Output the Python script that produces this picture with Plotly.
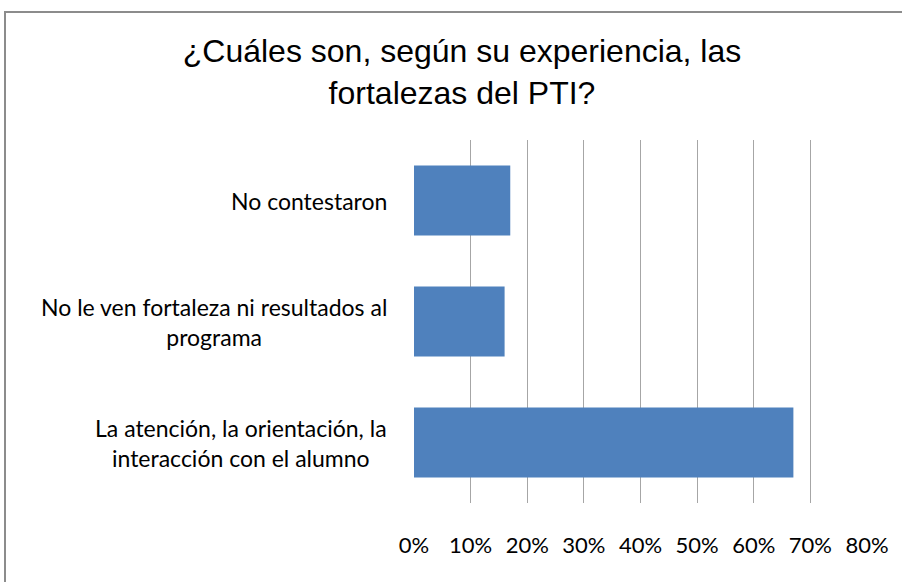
import plotly.graph_objects as go

categories = [
    "No contestaron",
    "No le ven fortaleza ni resultados al<br>programa",
    "La atención, la orientación, la<br>interacción con el alumno",
]
values = [0.17, 0.16, 0.67]
tick_vals = [0, 0.1, 0.2, 0.3, 0.4, 0.5, 0.6, 0.7, 0.8]
tick_text = ["0%", "10%", "20%", "30%", "40%", "50%", "60%", "70%", "80%"]
title_text = "¿Cuáles son, según su experiencia, las<br>fortalezas del PTI?"

W, H = 902, 582
L, R, T, B = 414, 35, 140, 79
pw, ph = W - L - R, H - T - B

fig = go.Figure(
    go.Bar(
        x=values,
        y=categories,
        orientation="h",
        marker=dict(color="#4F81BD", line=dict(color="#4F81BD", width=0)),
        width=0.58,
    )
)

label_font = dict(family="Lato, Carlito, Calibri, sans-serif", size=23, color="#000000")
tick_font = dict(family="Lato, Carlito, Calibri, sans-serif", size=22, color="#000000")

for c in categories:
    fig.add_annotation(
        x=-25 / pw, xref="paper", y=c, yref="y",
        text=c, showarrow=False, xanchor="right", yanchor="middle",
        align="center", font=label_font,
    )

fig.add_shape(
    type="rect", xref="paper", yref="paper",
    x0=(5 - L) / pw, x1=(W + 20 - L) / pw,
    y0=-(B + 20) / ph, y1=(H - B - 12) / ph,
    line=dict(color="#8C8C8C", width=2), fillcolor="rgba(0,0,0,0)", layer="below",
)

fig.update_layout(
    width=W, height=H,
    margin=dict(l=L, r=R, t=T, b=B, autoexpand=False),
    paper_bgcolor="white", plot_bgcolor="white",
    showlegend=False,
    title=dict(
        text=title_text, x=462 / W, xanchor="center", y=1 - 62 / H, yanchor="middle",
        font=dict(family="Liberation Sans, Arial, sans-serif", size=32, color="#000000"),
    ),
    xaxis=dict(
        range=[0, 0.8], tickvals=tick_vals, ticktext=tick_text,
        showgrid=True, gridcolor="#A6A6A6", gridwidth=1.3,
        zeroline=False, showline=False, ticks="",
        tickfont=tick_font, ticklabelstandoff=27,
    ),
    yaxis=dict(
        autorange="reversed", showticklabels=False, showgrid=False,
        zeroline=False, showline=False, ticks="",
    ),
)

fig.write_html(
    "out.html",
    config={"displayModeBar": False},
    post_script="document.body.style.margin='0';document.body.style.overflow='hidden';",
)
